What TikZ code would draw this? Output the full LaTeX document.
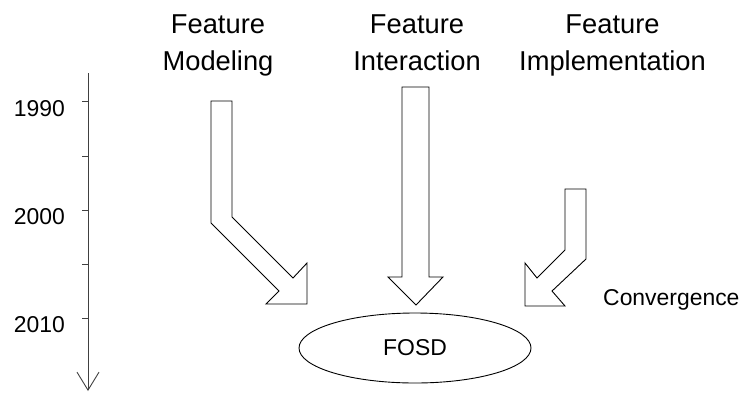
\documentclass[tikz,border=0pt]{standalone}
\usepackage{fontspec}
\setmainfont{Liberation Sans}
\usetikzlibrary{arrows.meta,shapes.geometric}
\begin{document}
\begin{tikzpicture}[x=1bp,y=-1bp,
  big/.style={font=\fontsize{27.4}{37}\selectfont, align=center, inner sep=0pt, anchor=base},
  small/.style={font=\fontsize{23}{27}\selectfont, inner sep=0pt},
  blockarrow/.style={draw=black, line width=0.9bp, line join=miter, fill=white},
  axis/.style={draw=black!75, line width=0.9bp},
  tick/.style={draw=black!75, line width=0.9bp}]
\useasboundingbox (0,0) rectangle (746,392);
% headings
\node[big] (fm) at (218,70) {Feature\\Modeling};
\node[big] (fi) at (417,70) {Feature\\Interaction};
\node[big] (fimp) at (612.5,70) {Feature\\Implementation};
% time axis
\coordinate (axtop) at (88,73);
\coordinate (axbot) at (88,391);
\draw[axis, -{Straight Barb[length=18bp,width=22bp,line width=0.9bp]}] (axtop) -- (axbot);
\foreach \y in {101,156,210,264,318} \draw[tick] (82,\y) -- (88,\y);
\node[small, anchor=base east] (y1990) at (65,116) {1990};
\node[small, anchor=base east] (y2000) at (65,224) {2000};
\node[small, anchor=base east] (y2010) at (65,332) {2010};
% block arrows
\draw[blockarrow] (211,101) -- (232,101) -- (232,217) -- (293,278) -- (307,263) -- (307,304)
  -- (266,304) -- (279,291) -- (211,223) -- cycle;
\draw[blockarrow] (402,87) -- (429,87) -- (429,277) -- (443,277) -- (416,305) -- (388,277)
  -- (402,277) -- cycle;
\draw[blockarrow] (565,189) -- (586,189) -- (586,259) -- (552,291) -- (565,306) -- (525,306)
  -- (525,263) -- (537,278) -- (565,250) -- cycle;
% convergence
\node[small, anchor=base west] (conv) at (603,305) {Convergence};
\node[small, draw=black, line width=0.9bp, ellipse, minimum width=232bp, minimum height=70bp] (fosd) at (415,348) {FOSD};
\end{tikzpicture}
\end{document}
